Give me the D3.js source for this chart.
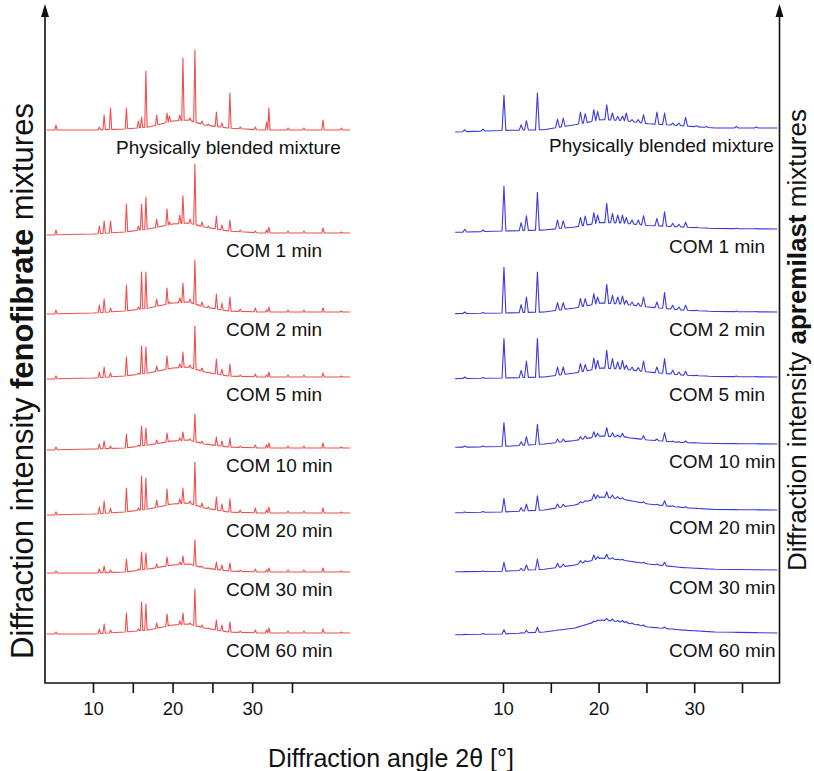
<!DOCTYPE html>
<html>
<head>
<meta charset="utf-8">
<script src="https://cdn.jsdelivr.net/npm/d3@7"></script>
<style>
  body { margin: 0; background: #fff; }
  text { font-family: "Liberation Sans", Arial, sans-serif; fill: #111; }
</style>
</head>
<body>
<div id="vis-holder"></div>
<script>
// Set dimensions
const width = 814;
const height = 771;

// Pattern names (top to bottom)
const labels = ["Physically blended mixture", "COM 1 min", "COM 2 min", "COM 5 min",
                "COM 10 min", "COM 20 min", "COM 30 min", "COM 60 min"];

// Axis ticks
const tickValues = [10, 15, 20, 25, 30, 35];
const tickLabels = [10, 20, 30];

// ---- Fenofibrate mixtures (left) ----
const fenoRange = [4.2, 42.3];
const fenoPeaks = [5.35, 10.8, 11.4, 12.2, 14.2, 15.7, 16.1, 16.65, 18.0, 19.3, 19.6, 20.9, 21.3, 22.2,
                   22.8, 23.7, 24.5, 25.5, 26.2, 27.2, 28.5, 30.4, 31.8, 32.1, 34.5, 36.5, 38.9, 41.2];
const fenoPB    = [5, 3, 15, 22, 22, 9, 13, 59, 15, 17, 14, 15, 72, 12, 80, 9, 6, 18, 7, 37, 3, 3, 8, 22, 2, 2, 10, 2];
const fenoCOM1  = [3, 7, 12, 12, 29, 7, 29, 36, 14, 24, 11, 18, 37, 14, 69, 11, 7, 17, 8, 13, 3, 2, 3, 6, 2, 2, 5, 1];
const fenoCOM2  = [2, 7, 13, 4, 27, 5, 40, 40, 13, 24, 10, 14, 29, 13, 52, 10, 6, 18, 9, 15, 3, 4, 2, 5, 2, 2, 4, 1];
const fenoCOM5  = [1, 5, 10, 4, 20, 4, 31, 30, 11, 21, 8, 13, 25, 12, 51, 9, 5, 18, 8, 13, 2, 3, 2, 5, 2, 2, 4, 1];
const fenoCOM10 = [1, 4, 7, 2, 14, 3, 22, 20, 8, 15, 7, 10, 16, 9, 34, 7, 4, 11, 7, 10, 2, 3, 3, 5, 2, 2, 5, 1];
const fenoCOM20 = [1, 6, 12, 5, 25, 5, 37, 35, 13, 24, 9, 14, 25, 12, 51, 10, 6, 16, 9, 14, 3, 5, 3, 6, 2, 2, 5, 1];
const fenoCOM30 = [1, 3, 6, 2, 13, 3, 20, 19, 8, 15, 6, 10, 16, 8, 32, 6, 4, 10, 7, 9, 2, 3, 2, 4, 2, 2, 4, 1];
const fenoCOM60 = [1, 4, 9, 3, 20, 4, 31, 29, 10, 19, 8, 12, 20, 10, 44, 8, 5, 13, 8, 11, 2, 3, 3, 5, 2, 2, 4, 1];
// amorphous background
const fenoBgAngles = [4.2, 10, 14, 17, 20, 22, 24, 27, 31, 42.3];
const fenoBg = [
  [0, 0, 1, 3, 9, 10, 5, 2, 0, 0],
  [-2, -1, 1, 4, 9, 10, 6, 2, 0, 0],
  [-2, -1, 1, 4, 9, 10, 5, 1, 0, 0],
  [-2, -1, 1, 4, 9, 10, 5, 1, 0, 0],
  [-2, -1, 0, 3, 7, 8, 4, 1, 0, 0],
  [-2, -1, 1, 4, 9, 10, 5, 1, 0, 0],
  [-1, -1, 0, 3, 7, 8, 4, 1, 0, 0],
  [-1, -1, 1, 3, 8, 9, 5, 1, 0, 0]
];
const fenoOffsets = [553, 450, 371, 306, 235, 170, 111, 50];

// ---- Apremilast mixtures (right) ----
const apreRange = [5.0, 38.7];
const aprePeaks = [6.0, 7.9, 10.1, 11.9, 12.45, 13.6, 15.7, 16.3, 18.1, 18.6, 19.5, 19.9, 20.85, 21.45, 22.0,
                   22.5, 22.9, 23.5, 24.15, 24.7, 26.1, 26.9, 27.75, 28.4, 29.1, 30.25, 31.3, 34.4, 36.5];
const aprePB    = [-1.7, -1, 32.6, 3.3, 7.3, 35, 9, 10, 16, 14.3, 18.3, 16.6, 23.3, 15, 11.6, 12, 15, 8.3, 8.3, 13.3, 16, 15, 5, 5, 10.6, 2.3, 1.5, 1.6, 1];
const apreCOM1  = [-0.3, -1, 43, 6.3, 13.3, 36.7, 9, 8.3, 11.7, 13, 16.3, 14, 25.7, 15.7, 14, 14, 11.7, 9, 9, 13.3, 10.7, 17.3, 5.7, 4.7, 6.7, 1.7, 1, 0.8, 0.5];
const apreCOM2  = [0, -0.5, 44.7, 7.4, 15, 40, 9.4, 9.4, 13.4, 13.4, 18.4, 15, 27.7, 16.7, 15, 16, 11.7, 10, 9, 15, 10, 19.4, 6.7, 5, 6.7, 1.7, 1, 1, 0.5];
const apreCOM5  = [0, -0.5, 38.4, 6.7, 16, 38.4, 10, 10, 13.4, 12.4, 19, 16.7, 26.7, 18.4, 15, 16.7, 11.7, 10, 9.4, 16, 10, 18.4, 6.7, 5, 5.7, 1.7, 1, 1, 0.5];
const apreCOM10 = [-2, -2, 21.3, 2.3, 7.3, 19.7, 5, 5, 7.3, 8, 12.3, 10.7, 16.3, 11.3, 9, 10.7, 7.3, 5.7, 4, 8.3, 5, 11.3, 3, 2.3, 3, 0.7, 0.3, 0.3, 0.2];
const apreCOM20 = [-2, -1.5, 11.7, 2.3, 6, 14.3, 6, 5.7, 8.3, 9.3, 16, 15, 18.3, 15, 13.3, 12.3, 10, 8.3, 6.7, 8.3, 5.7, 9.3, 4.3, 3.3, 3.3, 1, 0.5, 0.3, 0.2];
const apreCOM30 = [-1.5, -1, 7.7, 1.7, 5, 11, 6.7, 6, 9.3, 9.3, 15, 13.3, 15.7, 12.3, 10.7, 10.7, 9.3, 8.3, 6.7, 7.7, 6, 7.7, 3.3, 2.5, 2, 1, 0.5, 0.3, 0.2];
const apreCOM60 = [-1.3, -0.6, 3.3, 0.2, 2.7, 5.7, 3, 3.5, 6.5, 7.5, 12, 13, 14.5, 14, 12.5, 12.5, 11.5, 10, 8.5, 8, 5.5, 6, 4, 3.3, 3, 2, 1.2, 0.4, 0.2];
const apreBgAngles = [5, 10, 14.3, 17.5, 20.3, 22.4, 25.2, 28.7, 32.2, 38.8];
const apreBg = [
  [-4, -2.4, -1.7, 3.3, 8.3, 7.6, 4.3, 2.3, 0, 0],
  [-3.3, -2, -1, 2, 6.5, 6, 3.5, 2, 0.5, 0],
  [-1.6, -1, 0, 4, 9, 8, 5, 2, 0.5, 0],
  [-1.6, -1, 0, 4, 9, 8, 5, 2, 0.5, 0],
  [-3.3, -2.5, 0, 3.5, 8, 7, 4, 1.5, 0.5, 0],
  [-2.7, -2, 0, 5, 13, 11, 6, 2.5, 0.5, 0],
  [-1.7, -1.3, 0.7, 5, 12, 10, 6, 2.5, 0.7, 0],
  [-1.7, -1, 1, 5, 13, 11, 6, 3, 1, 0]
];
const apreOffsets = [555, 454, 371, 306, 239, 173, 113, 50];

const fenoHeights = [fenoPB, fenoCOM1, fenoCOM2, fenoCOM5, fenoCOM10, fenoCOM20, fenoCOM30, fenoCOM60];
const apreHeights = [aprePB, apreCOM1, apreCOM2, apreCOM5, apreCOM10, apreCOM20, apreCOM30, apreCOM60];

// Append svg
const svg = d3.select("#vis-holder")
              .append("svg")
              .attr("width", width)
              .attr("height", height);

// Scales
const y = d3.scaleLinear().domain([0, 668]).range([683, 15]);
const xLeft = d3.scaleLinear().domain([10, 35]).range([93, 292]);
const xRight = d3.scaleLinear().domain([10, 35]).range([503, 742]);

// Build the vertices of one pattern: background knots plus narrow peaks
function patternPoints(peaks, heights, bgAngles, bgVals, range, w) {
  const bg = d3.scaleLinear().domain(bgAngles).range(bgVals).clamp(true);
  let pts = [[range[0], bg(range[0])], [range[1], bg(range[1])]];
  bgAngles.forEach((a) => {
    if (a > range[0] && a < range[1] && !peaks.some((p) => Math.abs(p - a) <= w)) {
      pts.push([a, bg(a)]);
    }
  });
  peaks.forEach((p, i) => {
    if (p - w <= range[0] || p + w >= range[1]) return;
    pts.push([p - w, bg(p - w)]);
    pts.push([p, Math.max(heights[i], bg(p))]);
    pts.push([p + w, bg(p + w)]);
  });
  return pts.sort((a, b) => a[0] - b[0]);
}

// Draw one panel
function drawPanel(x, peaks, heightsList, bgAngles, bgList, offsets, range, w, color, labelStart, pbStart) {
  const g = svg.append("g");
  heightsList.forEach((hs, i) => {
    const pts = patternPoints(peaks, hs, bgAngles, bgList[i], range, w);
    const line = d3.line()
                   .x((d) => x(d[0]))
                   .y((d) => y(offsets[i] + d[1]));
    g.append("path")
     .attr("d", line(pts))
     .attr("fill", "none")
     .attr("stroke", color)
     .attr("stroke-width", 1.1)
     .attr("stroke-linejoin", "round");

    g.append("text")
     .attr("x", i === 0 ? pbStart : labelStart)
     .attr("y", y(offsets[i]) + 24)
     .attr("font-size", "19px")
     .text(labels[i]);
  });

  // ticks
  svg.append("g")
     .attr("transform", `translate(0,${y(0)})`)
     .call(d3.axisBottom(x)
             .tickValues(tickValues)
             .tickSize(10)
             .tickPadding(9)
             .tickFormat((d) => tickLabels.includes(d) ? d : ""))
     .call((g) => g.select(".domain").remove())
     .call((g) => g.selectAll("line").attr("stroke", "#111").attr("stroke-width", 1.6))
     .call((g) => g.selectAll("text").attr("font-size", "18.5px")
                   .attr("font-family", "'Liberation Sans', Arial, sans-serif").attr("fill", "#111"));
}

drawPanel(xLeft, fenoPeaks, fenoHeights, fenoBgAngles, fenoBg, fenoOffsets, fenoRange, 0.15, "#f04f4f", 226, 116);
drawPanel(xRight, aprePeaks, apreHeights, apreBgAngles, apreBg, apreOffsets, apreRange, 0.2, "#3a3adf", 669, 549);

// Frame: two vertical axes with arrows, one baseline
const frameLeft = 45, frameRight = 779.5;
svg.append("path")
   .attr("d", `M${frameLeft},16 V${y(0)} H${frameRight} V16`)
   .attr("fill", "none")
   .attr("stroke", "#111")
   .attr("stroke-width", 1.6);
[frameLeft, frameRight].forEach((fx) => {
  svg.append("path")
     .attr("d", `M${fx - 4},17 L${fx},4 L${fx + 4},17 Z`)
     .attr("fill", "#111");
});

// Axis titles
svg.append("text")
   .attr("x", 391)
   .attr("y", 767)
   .attr("text-anchor", "middle")
   .attr("font-size", "25px")
   .text("Diffraction angle 2θ [°]");

const leftTitle = svg.append("text")
   .attr("transform", "translate(33,381) rotate(-90)")
   .attr("text-anchor", "middle")
   .attr("font-size", "31px");
leftTitle.append("tspan").text("Diffraction intensity ");
leftTitle.append("tspan").attr("font-weight", "bold").text("fenofibrate");
leftTitle.append("tspan").text(" mixtures");

const rightTitle = svg.append("text")
   .attr("transform", "translate(806,340) rotate(-90)")
   .attr("text-anchor", "middle")
   .attr("font-size", "26px");
rightTitle.append("tspan").text("Diffraction intensity ");
rightTitle.append("tspan").attr("font-weight", "bold").text("apremilast");
rightTitle.append("tspan").text(" mixtures");
</script>
</body>
</html>
